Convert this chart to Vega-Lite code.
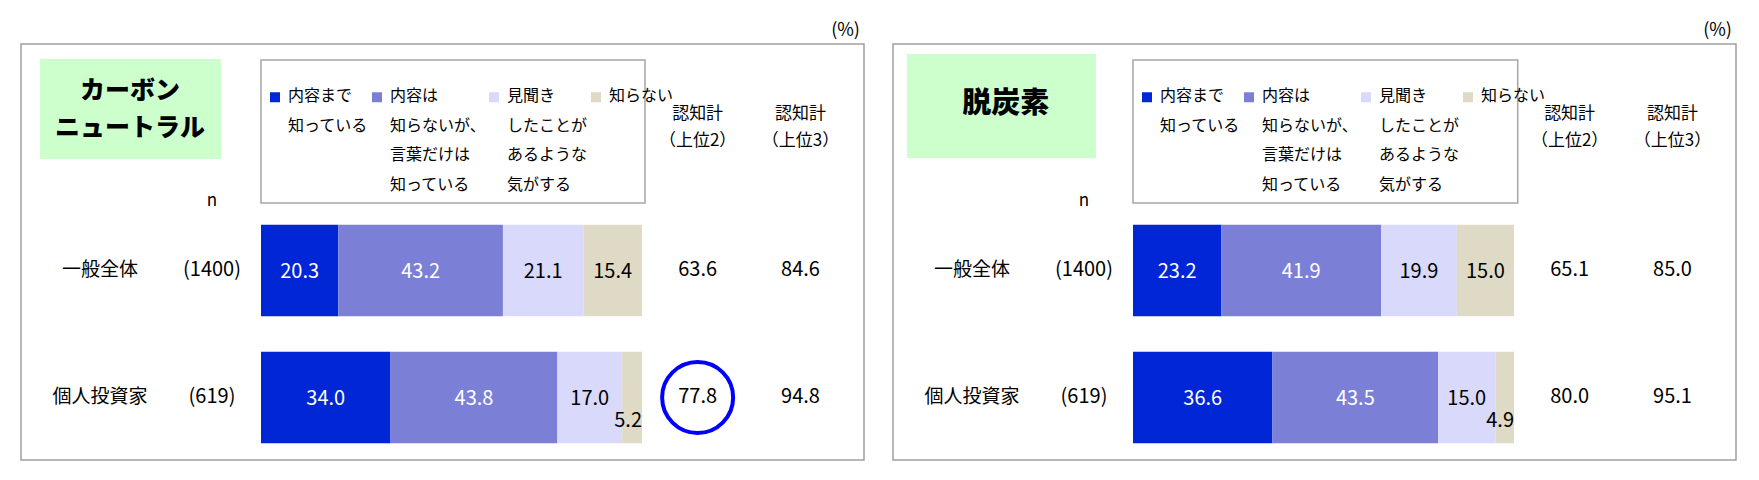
{
  "$schema": "https://vega.github.io/schema/vega-lite/v6.json",
  "padding": {"left": 20, "top": 21, "right": 5, "bottom": 5},
  "spacing": 29,
  "bounds": "flush",
  "config": {
    "font": "Noto Sans CJK JP",
    "view": {"stroke": "#a0a0a0", "strokeWidth": 1.5},
    "text": {"font": "Noto Sans CJK JP", "fontSize": 20, "color": "#000000"}
  },
  "datasets": {
    "shares": [
      {"topic": "カーボンニュートラル", "group": "一般全体", "code": 1, "category": "内容まで知っている", "pct": 20.3},
      {"topic": "カーボンニュートラル", "group": "一般全体", "code": 2, "category": "内容は知らないが、言葉だけは知っている", "pct": 43.2},
      {"topic": "カーボンニュートラル", "group": "一般全体", "code": 3, "category": "見聞きしたことがあるような気がする", "pct": 21.1},
      {"topic": "カーボンニュートラル", "group": "一般全体", "code": 4, "category": "知らない", "pct": 15.4},
      {"topic": "カーボンニュートラル", "group": "個人投資家", "code": 1, "category": "内容まで知っている", "pct": 34.0},
      {"topic": "カーボンニュートラル", "group": "個人投資家", "code": 2, "category": "内容は知らないが、言葉だけは知っている", "pct": 43.8},
      {"topic": "カーボンニュートラル", "group": "個人投資家", "code": 3, "category": "見聞きしたことがあるような気がする", "pct": 17.0},
      {"topic": "カーボンニュートラル", "group": "個人投資家", "code": 4, "category": "知らない", "pct": 5.2},
      {"topic": "脱炭素", "group": "一般全体", "code": 1, "category": "内容まで知っている", "pct": 23.2},
      {"topic": "脱炭素", "group": "一般全体", "code": 2, "category": "内容は知らないが、言葉だけは知っている", "pct": 41.9},
      {"topic": "脱炭素", "group": "一般全体", "code": 3, "category": "見聞きしたことがあるような気がする", "pct": 19.9},
      {"topic": "脱炭素", "group": "一般全体", "code": 4, "category": "知らない", "pct": 15.0},
      {"topic": "脱炭素", "group": "個人投資家", "code": 1, "category": "内容まで知っている", "pct": 36.6},
      {"topic": "脱炭素", "group": "個人投資家", "code": 2, "category": "内容は知らないが、言葉だけは知っている", "pct": 43.5},
      {"topic": "脱炭素", "group": "個人投資家", "code": 3, "category": "見聞きしたことがあるような気がする", "pct": 15.0},
      {"topic": "脱炭素", "group": "個人投資家", "code": 4, "category": "知らない", "pct": 4.9}
    ],
    "summary": [
      {"topic": "カーボンニュートラル", "group": "一般全体", "n": 1400, "top2": 63.6, "top3": 84.6},
      {"topic": "カーボンニュートラル", "group": "個人投資家", "n": 619, "top2": 77.8, "top3": 94.8},
      {"topic": "脱炭素", "group": "一般全体", "n": 1400, "top2": 65.1, "top3": 85.0},
      {"topic": "脱炭素", "group": "個人投資家", "n": 619, "top2": 80.0, "top3": 95.1}
    ]
  },
  "resolve": {
    "scale": {"x": "independent", "y": "independent", "color": "independent"},
    "legend": {"color": "independent"}
  },
  "hconcat": [
    {
      "width": 843,
      "height": 416,
      "resolve": {"scale": {"y": "independent"}},
      "layer": [
        {
          "data": {"values": [{}]},
          "encoding": {
            "x": {"type": "quantitative", "scale": {"domain": [-62.992, 158.268], "nice": false, "zero": false}, "axis": null},
            "y": {"type": "quantitative", "scale": {"domain": [-0.7835, 2.4921], "reverse": true, "nice": false, "zero": false}, "axis": null}
          },
          "layer": [
            {
              "mark": {"type": "rect", "fill": "#ccffcc"},
              "encoding": {"x": {"datum": -58.01}, "x2": {"datum": -10.5}, "y": {"datum": -0.6654}, "y2": {"datum": 0.122}}
            },
            {
              "mark": {"type": "rect", "fill": "#ffffff", "stroke": "#a6a6a6", "strokeWidth": 1.5},
              "encoding": {"x": {"datum": 0}, "x2": {"datum": 100.79}, "y": {"datum": -0.6575}, "y2": {"datum": 0.4685}}
            },
            {
              "mark": {"type": "text", "fontSize": 25, "fontWeight": 900, "lineHeight": 37, "baseline": "middle"},
              "encoding": {"x": {"datum": -34.38}, "y": {"datum": -0.4134}, "text": {"value": ["カーボン", "ニュートラル"]}}
            },
            {
              "mark": {"type": "text", "fontSize": 17, "lineHeight": 27, "baseline": "middle"},
              "encoding": {"x": {"datum": 114.6}, "y": {"datum": -0.2323}, "text": {"value": ["認知計", "（上位2）"]}}
            },
            {
              "mark": {"type": "text", "fontSize": 17, "lineHeight": 27, "baseline": "middle"},
              "encoding": {"x": {"datum": 141.6}, "y": {"datum": -0.2323}, "text": {"value": ["認知計", "（上位3）"]}}
            },
            {
              "mark": {"type": "text", "fontSize": 17, "baseline": "middle"},
              "encoding": {"x": {"datum": -12.86}, "y": {"datum": 0.4527}, "text": {"value": "n"}}
            },
            {
              "mark": {"type": "text", "fontSize": 18, "baseline": "middle", "align": "right"},
              "encoding": {"x": {"datum": 157.2}, "y": {"datum": -0.8859}, "text": {"value": "(%)"}}
            }
          ]
        },
        {
          "data": {"name": "shares"},
          "transform": [
            {"filter": "datum.topic == 'カーボンニュートラル'"},
            {"stack": "pct", "groupby": ["group"], "sort": [{"field": "code"}], "as": ["x0", "x1"]}
          ],
          "encoding": {
            "y": {"field": "group", "type": "nominal", "scale": {"domain": ["一般全体", "個人投資家"], "paddingInner": 0.28, "paddingOuter": 0.7778, "align": 0.915}, "axis": null}
          },
          "layer": [
            {
              "mark": {"type": "bar"},
              "encoding": {
                "x": {"field": "x0", "type": "quantitative", "scale": {"domain": [-62.992, 158.268], "nice": false, "zero": false}, "axis": null},
                "x2": {"field": "x1"},
                "color": {
                  "field": "category",
                  "type": "nominal",
                  "scale": {
                    "domain": ["内容まで知っている", "内容は知らないが、言葉だけは知っている", "見聞きしたことがあるような気がする", "知らない"],
                    "range": ["#0026d6", "#7b80d6", "#d9d9fc", "#dfdac5"]
                  },
                  "legend": {
                    "orient": "none", "legendX": 246, "legendY": 45, "direction": "horizontal", "columns": 4, "title": null,
                    "symbolType": "square", "symbolSize": 100, "symbolStrokeWidth": 0, "symbolOpacity": 1,
                    "labelFont": "Noto Sans CJK JP", "labelFontSize": 16, "labelColor": "#000000", "labelOffset": 5,
                    "labelBaseline": "top", "labelLimit": 200, "columnPadding": -9, "padding": 0,
                    "labelExpr": "datum.label == '内容まで知っている' ? ['内容まで', '知っている', '', ''] : datum.label == '内容は知らないが、言葉だけは知っている' ? ['内容は', '知らないが、', '言葉だけは', '知っている'] : datum.label == '見聞きしたことがあるような気がする' ? ['見聞き', 'したことが', 'あるような', '気がする'] : ['知らない', '', '', '']",
                    "encode": {"labels": {"update": {"lineHeight": {"value": 29.5}, "dy": {"value": -9}}}}
                  }
                }
              }
            },
            {
              "transform": [
                {"filter": "datum.pct >= 8"},
                {"fold": ["x0", "x1"], "as": ["edge", "xpos"]},
                {"aggregate": [{"op": "mean", "field": "xpos", "as": "xmid"}], "groupby": ["group", "code", "pct"]}
              ],
              "mark": {"type": "text", "baseline": "middle", "dy": 2},
              "encoding": {
                "x": {"field": "xmid", "type": "quantitative", "scale": {"domain": [-62.992, 158.268], "nice": false, "zero": false}, "axis": null},
                "text": {"field": "pct", "type": "quantitative", "format": ".1f"},
                "color": {"condition": {"test": "datum.code <= 2", "value": "#ffffff"}, "value": "#000000"}
              }
            },
            {
              "transform": [{"filter": "datum.pct < 8"}],
              "mark": {"type": "text", "baseline": "middle", "align": "right", "dy": 24},
              "encoding": {
                "x": {"field": "x1", "type": "quantitative", "scale": {"domain": [-62.992, 158.268], "nice": false, "zero": false}, "axis": null},
                "text": {"field": "pct", "type": "quantitative", "format": ".1f"},
                "color": {"value": "#000000"}
              }
            },
            {
              "data": {"name": "summary"},
              "transform": [{"filter": "datum.topic == 'カーボンニュートラル'"}],
              "layer": [
                {
                  "mark": {"type": "text", "baseline": "middle", "fontSize": 19},
                  "encoding": {"x": {"datum": -42.26, "type": "quantitative", "scale": {"domain": [-62.992, 158.268], "nice": false, "zero": false}, "axis": null}, "text": {"field": "group"}}
                },
                {
                  "mark": {"type": "text", "baseline": "middle", "fontSize": 20, "text": {"expr": "'(' + datum.n + ')'"}},
                  "encoding": {"x": {"datum": -12.86, "type": "quantitative"}}
                },
                {
                  "mark": {"type": "text", "baseline": "middle"},
                  "encoding": {"x": {"datum": 114.6, "type": "quantitative"}, "text": {"field": "top2", "type": "quantitative", "format": ".1f"}}
                },
                {
                  "mark": {"type": "text", "baseline": "middle"},
                  "encoding": {"x": {"datum": 141.6, "type": "quantitative"}, "text": {"field": "top3", "type": "quantitative", "format": ".1f"}}
                },
                {
                  "transform": [{"filter": "datum.group == '個人投資家'"}],
                  "mark": {"type": "point", "shape": "circle", "filled": false, "stroke": "#0000ff", "strokeWidth": 4, "size": 5041, "opacity": 1},
                  "encoding": {"x": {"datum": 114.6, "type": "quantitative"}}
                }
              ]
            }
          ]
        }
      ]
    },
    {
      "width": 843,
      "height": 416,
      "resolve": {"scale": {"y": "independent"}},
      "layer": [
        {
          "data": {"values": [{}]},
          "encoding": {
            "x": {"type": "quantitative", "scale": {"domain": [-62.992, 158.268], "nice": false, "zero": false}, "axis": null},
            "y": {"type": "quantitative", "scale": {"domain": [-0.7835, 2.4921], "reverse": true, "nice": false, "zero": false}, "axis": null}
          },
          "layer": [
            {
              "mark": {"type": "rect", "fill": "#ccffcc"},
              "encoding": {"x": {"datum": -59.32}, "x2": {"datum": -9.71}, "y": {"datum": -0.7048}, "y2": {"datum": 0.1141}}
            },
            {
              "mark": {"type": "rect", "fill": "#ffffff", "stroke": "#a6a6a6", "strokeWidth": 1.5},
              "encoding": {"x": {"datum": 0}, "x2": {"datum": 100.97}, "y": {"datum": -0.6575}, "y2": {"datum": 0.4685}}
            },
            {
              "mark": {"type": "text", "fontSize": 29, "fontWeight": 900, "baseline": "middle"},
              "encoding": {"x": {"datum": -33.4}, "y": {"datum": -0.3111}, "text": {"value": "脱炭素"}}
            },
            {
              "mark": {"type": "text", "fontSize": 17, "lineHeight": 27, "baseline": "middle"},
              "encoding": {"x": {"datum": 114.6}, "y": {"datum": -0.2323}, "text": {"value": ["認知計", "（上位2）"]}}
            },
            {
              "mark": {"type": "text", "fontSize": 17, "lineHeight": 27, "baseline": "middle"},
              "encoding": {"x": {"datum": 141.6}, "y": {"datum": -0.2323}, "text": {"value": ["認知計", "（上位3）"]}}
            },
            {
              "mark": {"type": "text", "fontSize": 17, "baseline": "middle"},
              "encoding": {"x": {"datum": -12.86}, "y": {"datum": 0.4527}, "text": {"value": "n"}}
            },
            {
              "mark": {"type": "text", "fontSize": 18, "baseline": "middle", "align": "right"},
              "encoding": {"x": {"datum": 157.2}, "y": {"datum": -0.8859}, "text": {"value": "(%)"}}
            }
          ]
        },
        {
          "data": {"name": "shares"},
          "transform": [
            {"filter": "datum.topic == '脱炭素'"},
            {"stack": "pct", "groupby": ["group"], "sort": [{"field": "code"}], "as": ["x0", "x1"]}
          ],
          "encoding": {
            "y": {"field": "group", "type": "nominal", "scale": {"domain": ["一般全体", "個人投資家"], "paddingInner": 0.28, "paddingOuter": 0.7778, "align": 0.915}, "axis": null}
          },
          "layer": [
            {
              "mark": {"type": "bar"},
              "encoding": {
                "x": {"field": "x0", "type": "quantitative", "scale": {"domain": [-62.992, 158.268], "nice": false, "zero": false}, "axis": null},
                "x2": {"field": "x1"},
                "color": {
                  "field": "category",
                  "type": "nominal",
                  "scale": {
                    "domain": ["内容まで知っている", "内容は知らないが、言葉だけは知っている", "見聞きしたことがあるような気がする", "知らない"],
                    "range": ["#0026d6", "#7b80d6", "#d9d9fc", "#dfdac5"]
                  },
                  "legend": {
                    "orient": "none", "legendX": 246, "legendY": 45, "direction": "horizontal", "columns": 4, "title": null,
                    "symbolType": "square", "symbolSize": 100, "symbolStrokeWidth": 0, "symbolOpacity": 1,
                    "labelFont": "Noto Sans CJK JP", "labelFontSize": 16, "labelColor": "#000000", "labelOffset": 5,
                    "labelBaseline": "top", "labelLimit": 200, "columnPadding": -9, "padding": 0,
                    "labelExpr": "datum.label == '内容まで知っている' ? ['内容まで', '知っている', '', ''] : datum.label == '内容は知らないが、言葉だけは知っている' ? ['内容は', '知らないが、', '言葉だけは', '知っている'] : datum.label == '見聞きしたことがあるような気がする' ? ['見聞き', 'したことが', 'あるような', '気がする'] : ['知らない', '', '', '']",
                    "encode": {"labels": {"update": {"lineHeight": {"value": 29.5}, "dy": {"value": -9}}}}
                  }
                }
              }
            },
            {
              "transform": [
                {"filter": "datum.pct >= 8"},
                {"fold": ["x0", "x1"], "as": ["edge", "xpos"]},
                {"aggregate": [{"op": "mean", "field": "xpos", "as": "xmid"}], "groupby": ["group", "code", "pct"]}
              ],
              "mark": {"type": "text", "baseline": "middle", "dy": 2},
              "encoding": {
                "x": {"field": "xmid", "type": "quantitative", "scale": {"domain": [-62.992, 158.268], "nice": false, "zero": false}, "axis": null},
                "text": {"field": "pct", "type": "quantitative", "format": ".1f"},
                "color": {"condition": {"test": "datum.code <= 2", "value": "#ffffff"}, "value": "#000000"}
              }
            },
            {
              "transform": [{"filter": "datum.pct < 8"}],
              "mark": {"type": "text", "baseline": "middle", "align": "right", "dy": 24},
              "encoding": {
                "x": {"field": "x1", "type": "quantitative", "scale": {"domain": [-62.992, 158.268], "nice": false, "zero": false}, "axis": null},
                "text": {"field": "pct", "type": "quantitative", "format": ".1f"},
                "color": {"value": "#000000"}
              }
            },
            {
              "data": {"name": "summary"},
              "transform": [{"filter": "datum.topic == '脱炭素'"}],
              "layer": [
                {
                  "mark": {"type": "text", "baseline": "middle", "fontSize": 19},
                  "encoding": {"x": {"datum": -42.26, "type": "quantitative", "scale": {"domain": [-62.992, 158.268], "nice": false, "zero": false}, "axis": null}, "text": {"field": "group"}}
                },
                {
                  "mark": {"type": "text", "baseline": "middle", "fontSize": 20, "text": {"expr": "'(' + datum.n + ')'"}},
                  "encoding": {"x": {"datum": -12.86, "type": "quantitative"}}
                },
                {
                  "mark": {"type": "text", "baseline": "middle"},
                  "encoding": {"x": {"datum": 114.6, "type": "quantitative"}, "text": {"field": "top2", "type": "quantitative", "format": ".1f"}}
                },
                {
                  "mark": {"type": "text", "baseline": "middle"},
                  "encoding": {"x": {"datum": 141.6, "type": "quantitative"}, "text": {"field": "top3", "type": "quantitative", "format": ".1f"}}
                }
              ]
            }
          ]
        }
      ]
    }
  ]
}
